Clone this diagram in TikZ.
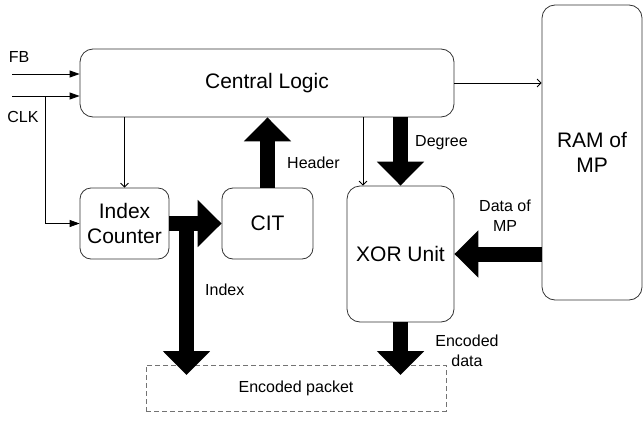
\documentclass[tikz,border=0pt]{standalone}
\usepackage{fontspec}
\setmainfont{Liberation Sans}
\usetikzlibrary{arrows.meta}
\begin{document}
\begin{tikzpicture}[x=1pt,y=-1pt,
  box/.style={draw=black!80, line width=0.8pt, rounded corners=13pt, inner sep=0pt, align=center, font=\fontsize{21}{25}\selectfont},
  lab/.style={font=\fontsize{16}{20}\selectfont, align=center, inner sep=0pt},
  thinarr/.style={draw=black, line width=0.8pt, -{Straight Barb[length=4pt,width=8pt]}},
  feed/.style={line width=0.8pt, -{Triangle[length=10pt,width=7pt]}},
  big/.style={line width=15pt, -{Triangle[length=24pt,width=46pt]}},
]
\useasboundingbox (0,0) rectangle (644,420);
% blocks
\node[box, minimum width=374pt, minimum height=68pt] (CL) at (267,83) {Central Logic};
\node[box, rounded corners=11pt, minimum width=89pt, minimum height=71pt] (IC) at (124.5,223.5) {Index\\Counter};
\node[box, rounded corners=11pt, minimum width=91pt, minimum height=71pt] (CIT) at (267.5,223.5) {CIT};
\node[box, minimum width=107pt, minimum height=136pt] (XOR) at (400.5,254) {XOR Unit};
\node[box, minimum width=100pt, minimum height=295pt] (RAM) at (592,152.5) {RAM of\\MP};
\node[draw=black!55, dash pattern=on 5pt off 3pt, line width=0.8pt, minimum width=300pt, minimum height=46pt, inner sep=0pt, font=\fontsize{16}{20}\selectfont] (PK) at (296,388) {Encoded packet};
% coordinates
\coordinate (fb) at (12,74);
\coordinate (clk) at (12,96);
\coordinate (br) at (45,96);
\coordinate (xt) at (363,0);
\coordinate (ij) at (186.5,223.5);
\coordinate (it) at (186.5,375);
\coordinate (et) at (400.5,375);
% thin connectors
\draw[feed] (fb) -- (fb -| CL.west);
\draw[feed] (clk) -- (clk -| CL.west);
\draw[feed] (br) |- (IC.west);
\draw[thinarr] (IC.north |- CL.south) -- (IC.north);
\draw[thinarr] (xt |- CL.south) -- (xt |- XOR.north);
\draw[thinarr] (CL.east) -- (CL.east -| RAM.west);
% thick connectors
\draw[big] (IC.east) -- (CIT.west);
\draw[big] (ij) -- (it);
\draw[big] (CIT.north) -- (CIT.north |- CL.south);
\draw[big] (XOR.north |- CL.south) -- (XOR.north);
\draw[big] (RAM.west |- XOR.east) -- (XOR.east);
\draw[big] (XOR.south) -- (et);
% labels
\node[lab] (lfb) at (19,57) {FB};
\node[lab] (lclk) at (23,117) {CLK};
\node[lab, anchor=west] (lhd) at (287,163) {Header};
\node[lab, anchor=west] (ldg) at (415,143) {Degree};
\node[lab] (ldm) at (505,216) {Data of\\MP};
\node[lab, anchor=west] (lix) at (205,290) {Index};
\node[lab] (led) at (467,351) {Encoded\\data};
\end{tikzpicture}
\end{document}
